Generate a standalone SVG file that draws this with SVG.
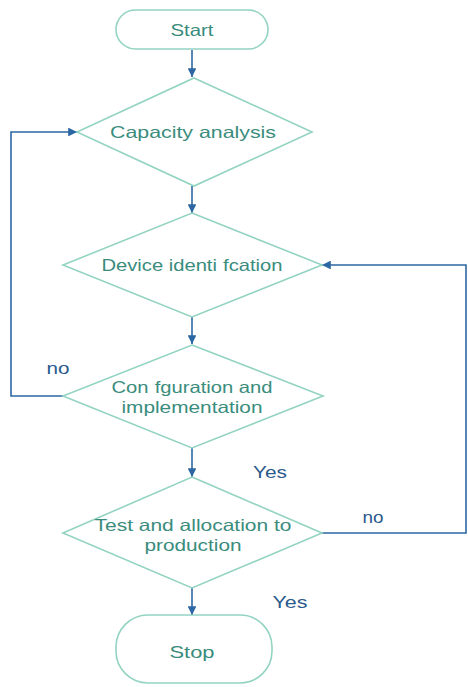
<svg xmlns="http://www.w3.org/2000/svg" width="468" height="687" viewBox="0 0 468 687">
<style>
.node{fill:#fff;stroke:#93d3c2;stroke-width:1.6}
.nt{font-family:"Liberation Sans",Arial,sans-serif;font-size:16.5px;fill:#3a8c7d;text-anchor:middle;dominant-baseline:central}
.lb{font-family:"Liberation Sans",Arial,sans-serif;font-size:16.5px;fill:#2b5a8c;text-anchor:middle;dominant-baseline:central}
.cn{fill:none;stroke:#2d67a3;stroke-width:1.6}
</style>
<defs>
<marker id="ah" viewBox="0 0 10 10" refX="10" refY="5" markerWidth="5.5" markerHeight="5.5" orient="auto" markerUnits="strokeWidth">
<path d="M0,0 L10,5 L0,10 z" fill="#2d67a3"/>
</marker>
</defs>
<rect width="468" height="687" fill="#fff"/>
<g id="connectors">
<line class="cn" x1="192" y1="50" x2="192" y2="77" marker-end="url(#ah)"/>
<line class="cn" x1="192" y1="186" x2="192" y2="213" marker-end="url(#ah)"/>
<line class="cn" x1="192" y1="317" x2="192" y2="344" marker-end="url(#ah)"/>
<line class="cn" x1="192" y1="448" x2="192" y2="477" marker-end="url(#ah)"/>
<line class="cn" x1="192" y1="588" x2="192" y2="615" marker-end="url(#ah)"/>
<polyline class="cn" points="63,396 11,396 11,132 77,132" marker-end="url(#ah)"/>
<polyline class="cn" points="322,533 466,533 466,265 322,265" marker-end="url(#ah)"/>
<text class="lb" x="58" y="368" textLength="23" lengthAdjust="spacingAndGlyphs">no</text>
<text class="lb" x="270" y="472" textLength="34" lengthAdjust="spacingAndGlyphs">Yes</text>
<text class="lb" x="373" y="517" textLength="21" lengthAdjust="spacingAndGlyphs">no</text>
<text class="lb" x="290" y="602" textLength="35" lengthAdjust="spacingAndGlyphs">Yes</text>
</g>
<g id="start">
<rect class="node" x="116" y="10" width="152" height="39" rx="19.5"/>
<text class="nt" x="192" y="30" textLength="43" lengthAdjust="spacingAndGlyphs">Start</text>
</g>
<g id="capacity">
<polygon class="node" points="194,78 312,132 194,186 77,132"/>
<text class="nt" x="193" y="132" textLength="166" lengthAdjust="spacingAndGlyphs">Capacity analysis</text>
</g>
<g id="device">
<polygon class="node" points="192,213 322,265 192,317 63,265"/>
<text class="nt" x="192" y="265" textLength="181" lengthAdjust="spacingAndGlyphs">Device identi<tspan dx="5">fcation</tspan></text>
</g>
<g id="config">
<polygon class="node" points="192,345 323,396 192,448 63,396"/>
<text class="nt" x="192" y="387" textLength="161" lengthAdjust="spacingAndGlyphs">Con<tspan dx="5">fguration and</tspan></text>
<text class="nt" x="192" y="407" textLength="141" lengthAdjust="spacingAndGlyphs">implementation</text>
</g>
<g id="test">
<polygon class="node" points="192,477 322,533 192,588 63,533"/>
<text class="nt" x="193" y="525" textLength="197" lengthAdjust="spacingAndGlyphs">Test and allocation to</text>
<text class="nt" x="193" y="545" textLength="97" lengthAdjust="spacingAndGlyphs">production</text>
</g>
<g id="stop">
<rect class="node" x="116" y="615" width="156" height="68" rx="32"/>
<text class="nt" x="192" y="652" textLength="45" lengthAdjust="spacingAndGlyphs">Stop</text>
</g>
</svg>
